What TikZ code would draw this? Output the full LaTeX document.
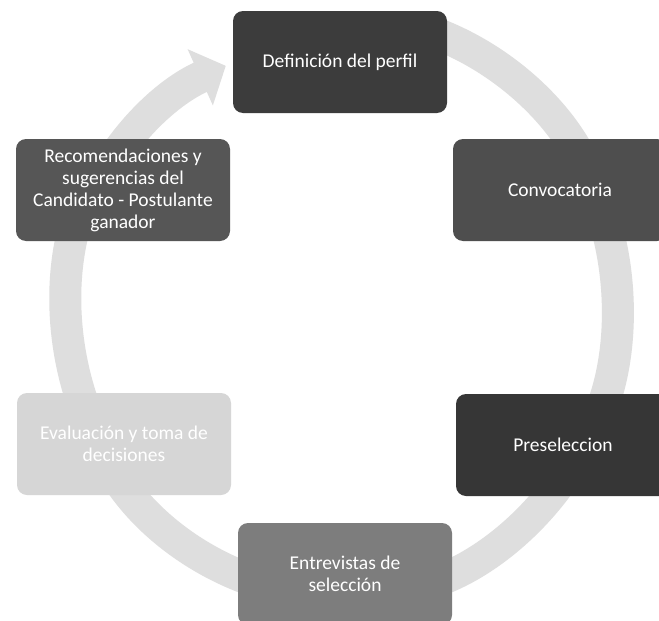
\documentclass[tikz,border=0pt]{standalone}
\usepackage{fontspec}
\setmainfont{Carlito}
\usetikzlibrary{arrows.meta}
\definecolor{bandgray}{HTML}{DEDEDE}
\tikzset{
  blk/.style={draw=none, rounded corners=10pt, minimum width=214pt, minimum height=102pt,
    text=white, align=center, font=\fontsize{19.5}{22}\selectfont, inner sep=2pt},
  cyc/.style={draw=bandgray, line width=32pt,
    -{Triangle[width=60pt,length=28pt]}}
}
\begin{document}
\begin{tikzpicture}[x=1pt,y=-1pt]
\useasboundingbox (0,0) rectangle (659,621);
\fill[white] (0,0) rectangle (659,621);
\coordinate (cc) at (342,306);
% cycle arcs (clockwise on the page)
\draw[cyc] (cc) ++(-72:275 and 290) arc[start angle=-72, end angle=-22, x radius=275, y radius=290];
\draw[cyc] (cc) ++(-20:275 and 290) arc[start angle=-20, end angle=30, x radius=275, y radius=290];
\draw[cyc] (cc) ++(30:275 and 290) arc[start angle=30, end angle=80, x radius=275, y radius=290];
\draw[cyc] (cc) ++(95:275 and 290) arc[start angle=95, end angle=155, x radius=275, y radius=290];
\draw[cyc] (cc) ++(150:275 and 290) arc[start angle=150, end angle=210, x radius=275, y radius=290];
\draw[cyc] (cc) ++(200:275 and 265) arc[start angle=200, end angle=245, x radius=275, y radius=265];
% boxes
\node[blk, fill={rgb,255:red,60;green,60;blue,60}] (def) at (340,62) {Definición del perfil};
\node[blk, fill={rgb,255:red,78;green,78;blue,78}] (conv) at (560,190) {Convocatoria};
\node[blk, fill={rgb,255:red,54;green,54;blue,54}] (pre) at (563,445) {Preseleccion};
\node[blk, fill={rgb,255:red,125;green,125;blue,125}] (ent) at (345,574) {Entrevistas de\\selección};
\node[blk, fill={rgb,255:red,214;green,214;blue,214}] (eva) at (124,444) {Evaluación y toma de\\decisiones};
\node[blk, fill={rgb,255:red,86;green,86;blue,86}] (rec) at (123,190) {Recomendaciones y\\sugerencias del\\Candidato - Postulante\\ganador};
\end{tikzpicture}
\end{document}
